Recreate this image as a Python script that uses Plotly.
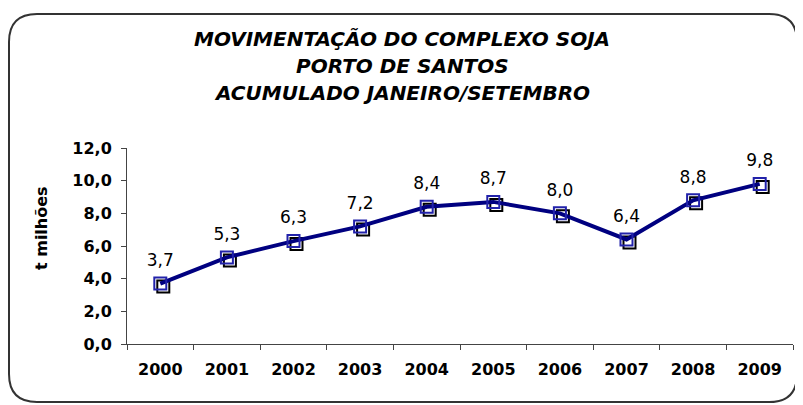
import plotly.graph_objects as go

years = ["2000", "2001", "2002", "2003", "2004", "2005", "2006", "2007", "2008", "2009"]
values = [3.7, 5.3, 6.3, 7.2, 8.4, 8.7, 8.0, 6.4, 8.8, 9.8]
labels = [f"{v:.1f}".replace(".", ",") for v in values]
title_lines = ["MOVIMENTAÇÃO DO COMPLEXO SOJA", "PORTO DE SANTOS", "ACUMULADO JANEIRO/SETEMBRO"]
y_title = "t milhões"

# the page body has an 8px margin, so the figure is drawn 8px in from the window edge
OFF = 8
W, H = 803 - OFF, 405 - OFF
L, R, T, B = 119, 10, 140, 61
pw, ph = W - L - R, H - T - B
FONT = "DejaVu Sans, Verdana, sans-serif"

fig = go.Figure()
# shadow markers on base axes
fig.add_trace(go.Scatter(x=years, y=values, mode="markers",
                         marker=dict(symbol="square-open", size=12, color="black", line=dict(width=2)),
                         xaxis="x", yaxis="y", hoverinfo="skip", showlegend=False))
# main line on overlay axes
fig.add_trace(go.Scatter(x=years, y=values, mode="lines+markers",
                         line=dict(color="#000080", width=4),
                         marker=dict(symbol="square-open", size=12, color="#2222aa", line=dict(width=2)),
                         xaxis="x2", yaxis="y2", showlegend=False))
# data labels
fig.add_trace(go.Scatter(x=years, y=values, mode="markers+text",
                         marker=dict(size=20, color="rgba(0,0,0,0)"),
                         text=labels, textposition="top center",
                         textfont=dict(family=FONT, size=17, color="black"),
                         xaxis="x2", yaxis="y2", hoverinfo="skip", showlegend=False))

dx = 3 / (pw / 10)
dy = 3 / (ph / 12)


def fx(p):
    return (p - OFF - L) / pw


def fy(p):
    return (H - B - (p - OFF)) / ph


x0, x1, y0, y1, r = 9, 797, 14, 402, 28
path = (f"M {fx(x0)} {fy(y0 + r)} "
        f"Q {fx(x0)} {fy(y0)} {fx(x0 + r)} {fy(y0)} "
        f"L {fx(x1 - r)} {fy(y0)} "
        f"Q {fx(x1)} {fy(y0)} {fx(x1)} {fy(y0 + r)} "
        f"L {fx(x1)} {fy(y1 - r)} "
        f"Q {fx(x1)} {fy(y1)} {fx(x1 - r)} {fy(y1)} "
        f"L {fx(x0 + r)} {fy(y1)} "
        f"Q {fx(x0)} {fy(y1)} {fx(x0)} {fy(y1 - r)} Z")

axis_col = "#444"
fig.update_layout(
    width=W, height=H,
    margin=dict(l=L, r=R, t=T, b=B),
    paper_bgcolor="white", plot_bgcolor="white",
    separators=",.",
    font=dict(family=FONT, color="black"),
    xaxis=dict(type="category", categoryorder="array", categoryarray=years,
               range=[-0.5 - dx, 9.5 - dx], showticklabels=False, showgrid=False,
               showline=False, ticks="", zeroline=False),
    yaxis=dict(range=[0 + dy, 12 + dy], showticklabels=False, showgrid=False,
               showline=False, ticks="", zeroline=False),
    xaxis2=dict(type="category", categoryorder="array", categoryarray=years,
                overlaying="x", range=[-0.5, 9.5], showgrid=False,
                showline=True, linecolor=axis_col, linewidth=1,
                ticks="outside", tickson="boundaries", ticklen=5, tickcolor=axis_col,
                ticklabelstandoff=11,
                tickfont=dict(family=FONT, size=16, color="black", weight="bold"), side="bottom"),
    yaxis2=dict(overlaying="y", range=[0, 12], dtick=2, tickformat=".1f",
                showgrid=False, zeroline=False,
                showline=True, linecolor=axis_col, linewidth=1,
                ticks="outside", ticklen=5, tickcolor=axis_col,
                ticklabelstandoff=6,
                tickfont=dict(family=FONT, size=16, color="black", weight="bold"), side="left"),
    shapes=[dict(type="path", xref="paper", yref="paper", path=path,
                 line=dict(color="#333", width=2), fillcolor="rgba(0,0,0,0)", layer="above")],
)

for i, t in enumerate(title_lines):
    fig.add_annotation(text=f"<b><i>{t}</i></b>", xref="paper", yref="paper",
                       x=fx(402), y=fy(39 + 27 * i), showarrow=False,
                       xanchor="center", yanchor="middle",
                       font=dict(family=FONT, size=20, color="black"))

fig.add_annotation(text=f"<b>{y_title}</b>", xref="paper", yref="paper",
                   x=fx(41), y=fy(228), showarrow=False, textangle=-90,
                   xanchor="center", yanchor="middle",
                   font=dict(family=FONT, size=16, color="black"))

fig.write_html("out.html")
